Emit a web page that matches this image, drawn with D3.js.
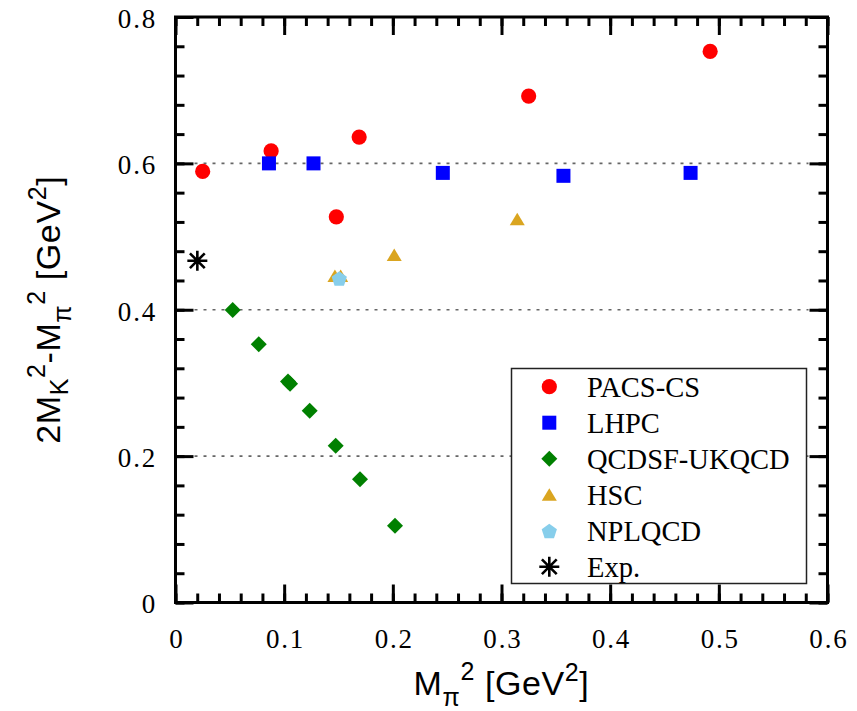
<!DOCTYPE html>
<html>
<head>
<meta charset="utf-8">
<script src="https://cdn.jsdelivr.net/npm/d3@7"></script>
<style>
  body { margin: 0; background: #fff; }
  svg { display: block; }
  .tick-label { font-family: "Liberation Serif", "Times New Roman", serif; font-size: 27px; letter-spacing: 1.8px; fill: #000; }
  .legend-label { font-family: "Liberation Serif", "Times New Roman", serif; font-size: 28.5px; fill: #000; }
  .axis-title { font-family: "Liberation Sans", Arial, sans-serif; font-size: 34px; letter-spacing: 0.6px; fill: #000; }
</style>
</head>
<body>
<svg id="canvas" width="857" height="711"></svg>
<script>
// data (x = Mpi^2, y = 2MK^2 - Mpi^2, both GeV^2)
const pacsX = [0.025, 0.088, 0.169, 0.148, 0.325, 0.492];
const pacsY = [0.589, 0.617, 0.636, 0.527, 0.692, 0.753];

const lhpcX = [0.086, 0.127, 0.246, 0.357, 0.474];
const lhpcY = [0.600, 0.600, 0.587, 0.583, 0.587];

const qcdsfX = [0.0526, 0.0766, 0.1035, 0.1054, 0.1235, 0.1474, 0.1698, 0.202];
const qcdsfY = [0.3996, 0.3528, 0.302, 0.299, 0.262, 0.2142, 0.1683, 0.105];

const hscX = [0.1467, 0.152, 0.2013, 0.3145];
const hscY = [0.446, 0.446, 0.4748, 0.5236];

const nplqcdX = [0.1507];
const nplqcdY = [0.443];

const expX = [0.0201];
const expY = [0.467];

const xTicks = [0, 0.1, 0.2, 0.3, 0.4, 0.5, 0.6];
const yTicks = [0, 0.2, 0.4, 0.6, 0.8];
const gridValues = [0.2, 0.4, 0.6];

const seriesNames = ["PACS-CS", "LHPC", "QCDSF-UKQCD", "HSC", "NPLQCD", "Exp."];

const plotLeft = 175.5, plotRight = 827.5, plotTop = 17, plotBottom = 602.5;

const x = d3.scaleLinear().domain([0, 0.6]).range([plotLeft, plotRight]);
const y = d3.scaleLinear().domain([0, 0.8]).range([plotBottom, plotTop]);

const svg = d3.select("#canvas");

// dotted horizontal grid
svg.append("g")
    .selectAll("line")
    .data(gridValues)
    .join("line")
    .attr("x1", plotLeft + 19)
    .attr("x2", plotRight - 19)
    .attr("y1", d => y(d))
    .attr("y2", d => y(d))
    .attr("stroke", "#666")
    .attr("stroke-width", 1.6)
    .attr("stroke-dasharray", "3,6");

// ticks on all four sides, pointing in
const xMinor = d3.range(0, 0.6001, 0.02);
const yMinor = d3.range(0, 0.8001, 0.04);

function tickAxis(axisFn, scale, values, size, transform) {
    const g = svg.append("g")
        .attr("transform", transform)
        .call(axisFn(scale).tickValues(values).tickSize(-size).tickFormat("").tickSizeOuter(0));
    g.select(".domain").remove();
    g.selectAll(".tick line").attr("stroke", "#000").attr("stroke-width", 3);
    return g;
}

tickAxis(d3.axisBottom, x, xMinor, 9, `translate(0,${plotBottom})`);
tickAxis(d3.axisTop, x, xMinor, 9, `translate(0,${plotTop})`);
tickAxis(d3.axisLeft, y, yMinor, 9, `translate(${plotLeft},0)`);
tickAxis(d3.axisRight, y, yMinor, 9, `translate(${plotRight},0)`);

const xAxis = tickAxis(d3.axisBottom, x, xTicks, 18, `translate(0,${plotBottom})`);
tickAxis(d3.axisTop, x, xTicks, 18, `translate(0,${plotTop})`);
const yAxis = tickAxis(d3.axisLeft, y, yTicks, 18, `translate(${plotLeft},0)`);
tickAxis(d3.axisRight, y, yTicks, 18, `translate(${plotRight},0)`);

// tick labels
xAxis.selectAll(".tick text")
    .text(d => d3.format("")(+d.toFixed(1)))
    .attr("class", "tick-label")
    .attr("y", 45)
    .attr("dy", null)
    .attr("dx", "0.9px")
    .attr("text-anchor", "middle");

yAxis.selectAll(".tick text")
    .text(d => d3.format("")(+d.toFixed(1)))
    .attr("class", "tick-label")
    .attr("x", -18.5)
    .attr("dy", "0.38em")
    .attr("text-anchor", "end");

// frame
svg.append("rect")
    .attr("x", plotLeft).attr("y", plotTop)
    .attr("width", plotRight - plotLeft).attr("height", plotBottom - plotTop)
    .attr("fill", "none")
    .attr("stroke", "#000")
    .attr("stroke-width", 3);

// marker shapes
function circle(g) {
    g.append("circle").attr("r", 7.6).attr("fill", "#ff0000");
}
function square(g) {
    g.append("rect").attr("x", -7).attr("y", -7).attr("width", 14).attr("height", 14).attr("fill", "#0000ff");
}
function diamond(g) {
    g.append("path").attr("d", "M0,-8L8,0L0,8L-8,0Z").attr("fill", "#008000");
}
function triangle(g) {
    g.append("path").attr("d", "M0,-6.5L7.5,6L-7.5,6Z").attr("fill", "#daa520");
}
function pentagon(g) {
    const pts = d3.range(5).map(i => {
        const a = -Math.PI / 2 + i * 2 * Math.PI / 5;
        return [8 * Math.cos(a), 1 + 8 * Math.sin(a)];
    });
    g.append("path").attr("d", "M" + pts.join("L") + "Z").attr("fill", "#87ceeb");
}
function asterisk(g) {
    const s = 10, d = 7.4;
    g.append("path")
        .attr("d", `M0,${-s}V${s}M${-s},0H${s}M${-d},${-d}L${d},${d}M${-d},${d}L${d},${-d}`)
        .attr("stroke", "#000")
        .attr("stroke-width", 2.6)
        .attr("fill", "none");
}

const series = [
    { xs: pacsX, ys: pacsY, draw: circle },
    { xs: lhpcX, ys: lhpcY, draw: square },
    { xs: qcdsfX, ys: qcdsfY, draw: diamond },
    { xs: hscX, ys: hscY, draw: triangle },
    { xs: nplqcdX, ys: nplqcdY, draw: pentagon },
    { xs: expX, ys: expY, draw: asterisk }
];

series.forEach(s => {
    s.xs.forEach((v, i) => {
        const g = svg.append("g")
            .attr("transform", `translate(${x(v)},${y(s.ys[i])})`);
        s.draw(g);
    });
});

// legend
const legend = svg.append("g");
legend.append("rect")
    .attr("x", 511.5).attr("y", 368.5)
    .attr("width", 295).attr("height", 215)
    .attr("fill", "#fff")
    .attr("stroke", "#222")
    .attr("stroke-width", 1.5);

seriesNames.forEach((name, i) => {
    const ry = 386.7 + i * 36;
    const g = legend.append("g").attr("transform", `translate(549.3,${ry})`);
    series[i].draw(g);
    legend.append("text")
        .attr("class", "legend-label")
        .attr("x", 587)
        .attr("y", ry + 9.8)
        .text(name);
});

// axis titles
const subSize = "25px";
const xt = svg.append("text")
    .attr("class", "axis-title")
    .attr("x", (plotLeft + plotRight) / 2)
    .attr("y", 695)
    .attr("text-anchor", "middle");
xt.append("tspan").text("M");
xt.append("tspan").attr("dy", 11).attr("font-size", subSize).text("π");
xt.append("tspan").attr("dy", -26).attr("font-size", subSize).text("2");
xt.append("tspan").attr("dy", 15).text(" [GeV");
xt.append("tspan").attr("dy", -14).attr("font-size", subSize).text("2");
xt.append("tspan").attr("dy", 14).text("]");

const yt = svg.append("text")
    .attr("class", "axis-title")
    .attr("transform", `translate(60,${(plotTop + plotBottom) / 2}) rotate(-90)`)
    .attr("text-anchor", "middle");
yt.append("tspan").text("2M");
yt.append("tspan").attr("dy", 8).attr("font-size", subSize).text("K");
yt.append("tspan").attr("dy", -23).attr("font-size", subSize).text("2");
yt.append("tspan").attr("dy", 15).text("-M");
yt.append("tspan").attr("dy", 11).attr("font-size", subSize).text("π");
yt.append("tspan").attr("dy", -26).attr("font-size", subSize).text("2");
yt.append("tspan").attr("dy", 15).text(" [GeV");
yt.append("tspan").attr("dy", -14).attr("font-size", subSize).text("2");
yt.append("tspan").attr("dy", 14).text("]");
</script>
</body>
</html>
